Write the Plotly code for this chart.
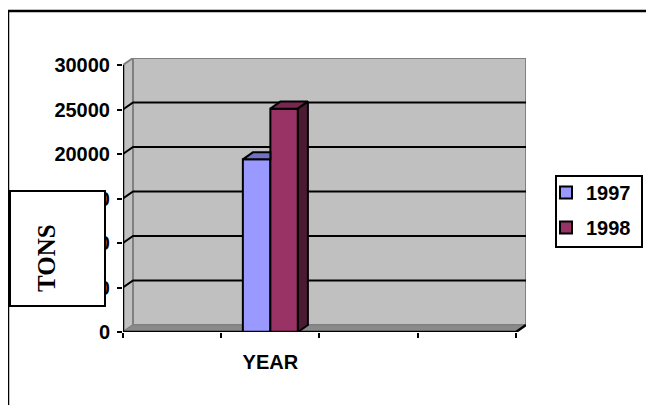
import plotly.graph_objects as go

# ---- data ----
categories = ["", "YEAR", "", ""]
series_names = ["1997", "1998"]
tons_1997 = [None, 19400, None, None]
tons_1998 = [None, 25100, None, None]
y_ticks = [0, 5000, 10000, 15000, 20000, 25000, 30000]
y_tick_labels = ["0", "5000", "10000", "15000", "20000", "25000", "30000"]

# ---- styling / geometry constants ----
FRONT_COLORS = ["#9999FF", "#993366"]
TOP_COLORS = ["#7272C4", "#782850"]
SIDE_COLORS = ["#5050A0", "#4D1A33"]
WALL = "#C0C0C0"
WALL_EDGE = "#808080"
FLOOR = "#8A8A8A"
BARGAP = 0.44
DX = 0.102      # 3D depth in category units
DY = 790        # 3D depth in value units
FONT = "Liberation Sans"

positions = list(range(len(categories)))
XLO = positions[0] - 0.5
XHI = positions[-1] + 0.5
YTOP = y_ticks[-1]

fig = go.Figure()

series = [tons_1997, tons_1998]
for name, vals, col in zip(series_names, series, FRONT_COLORS):
    fig.add_trace(go.Bar(
        x=positions, y=vals, name=name, legendgroup=name,
        marker=dict(color=col, line=dict(color="black", width=2)),
        hoverinfo="skip",
    ))

# 3D faces (top / side) computed from the data values
half = (1 - BARGAP) / 2
for i, (vals, tcol, scol) in enumerate(zip(series, TOP_COLORS, SIDE_COLORS)):
    for c, v in zip(positions, vals):
        if v is None:
            continue
        x0 = c - half + i * half
        x1 = x0 + half
        last = (i == len(series) - 1)
        if last:
            tx = [x0, x1, x1 + DX, x0 + DX, x0]
        else:
            # right part hidden behind the next bar
            tx = [x0, x1, x1, x0 + DX, x0]
        ty = [v, v, v + DY, v + DY, v]
        fig.add_trace(go.Scatter(x=tx, y=ty, fill="toself", fillcolor=tcol,
                                 mode="lines", line=dict(color="black", width=2),
                                 showlegend=False, hoverinfo="skip"))
        if last:
            fig.add_trace(go.Scatter(
                x=[x1, x1 + DX, x1 + DX, x1, x1], y=[0, DY, v + DY, v, 0],
                fill="toself", fillcolor=scol, mode="lines",
                line=dict(color="black", width=2), showlegend=False, hoverinfo="skip"))

shapes = []
# side wall
shapes.append(dict(type="path", xref="x", yref="y", layer="below",
                   path=f"M{XLO},0 L{XLO+DX},{DY} L{XLO+DX},{YTOP+DY} L{XLO},{YTOP} Z",
                   fillcolor=WALL, line=dict(color=WALL_EDGE, width=2)))
# back wall
shapes.append(dict(type="rect", xref="x", yref="y", layer="below",
                   x0=XLO + DX, x1=XHI + DX, y0=DY, y1=YTOP + DY,
                   fillcolor=WALL, line=dict(color=WALL_EDGE, width=2)))
# floor
shapes.append(dict(type="path", xref="x", yref="y", layer="below",
                   path=f"M{XLO},0 L{XHI},0 L{XHI+DX},{DY} L{XLO+DX},{DY} Z",
                   fillcolor=FLOOR, line=dict(color=WALL_EDGE, width=1)))
# gridlines on side + back wall
for v in y_ticks[1:-1]:
    shapes.append(dict(type="path", xref="x", yref="y", layer="below",
                       path=f"M{XLO},{v} L{XLO+DX},{v+DY} L{XHI+DX},{v+DY}",
                       line=dict(color="black", width=2)))
# front axes lines
shapes.append(dict(type="line", xref="x", yref="y", x0=XLO, x1=XLO, y0=0, y1=YTOP,
                   line=dict(color="black", width=2.5)))
shapes.append(dict(type="path", xref="x", yref="y",
                   path=f"M{XLO},0 L{XHI},0 L{XHI+DX},{DY}",
                   line=dict(color="black", width=2.5)))

# page offset (body margin) compensation: figure drawn 8px in from window edge
OFF = 8
W, H = 654 - OFF, 405 - OFF
L, T = 123 - OFF, 58 - OFF
R = W - (526 - OFF)
B = H - (332 - OFF)
pw, ph = W - L - R, H - T - B
def px(xr):
    return (xr - OFF - L) / pw
def py(yr):
    return (H - B - (yr - OFF)) / ph

shapes.append(dict(type="path", xref="paper", yref="paper",
                   path=f"M{px(8)},{py(420)} L{px(8)},{py(11)} L{px(670)},{py(11)}",
                   line=dict(color="black", width=2.5)))
# TONS box (covers part of tick labels)
shapes.append(dict(type="rect", xref="paper", yref="paper", layer="above",
                   x0=px(10), x1=px(105), y0=py(306), y1=py(191),
                   fillcolor="white", line=dict(color="black", width=2)))
# legend frame
shapes.append(dict(type="rect", xref="paper", yref="paper", layer="above",
                   x0=px(556), x1=px(642), y0=py(247), y1=py(176),
                   fillcolor="white", line=dict(color="black", width=2)))

fig.update_layout(
    width=W, height=H,
    margin=dict(l=L, r=R, t=T, b=B),
    paper_bgcolor="white", plot_bgcolor="white",
    barmode="group", bargap=BARGAP, bargroupgap=0,
    shapes=shapes,
    showlegend=True,
    legend=dict(x=px(546), y=py(173), xanchor="left", yanchor="top",
                bgcolor="rgba(0,0,0,0)", borderwidth=0,
                font=dict(family=FONT, size=20, color="black", weight="bold"),
                tracegroupgap=6, traceorder="grouped"),
    font=dict(family=FONT, color="black"),
    annotations=[dict(text="TONS", xref="paper", yref="paper", x=px(46), y=py(258),
                      xanchor="center", yanchor="middle",
                      showarrow=False, textangle=-90,
                      font=dict(family="Liberation Serif", size=25, color="black",
                                weight="bold"))],
)
fig.update_xaxes(range=[XLO, XHI + DX], tickmode="array", tickvals=positions,
                 ticktext=categories, ticks="", showgrid=False, zeroline=False,
                 showline=False, ticklabelstandoff=16,
                 tickfont=dict(family=FONT, size=20, color="black", weight="bold"),
                 minor=dict(tickmode="array",
                            tickvals=[XLO + k for k in range(len(categories) + 1)],
                            ticks="outside", ticklen=5, tickwidth=2, tickcolor="black",
                            showgrid=False))
fig.update_yaxes(range=[0, YTOP + DY], tickmode="array", tickvals=y_ticks,
                 ticktext=y_tick_labels, ticks="outside", ticklen=5, tickwidth=2,
                 tickcolor="black", showgrid=False, zeroline=False, showline=False,
                 ticklabelstandoff=3,
                 tickfont=dict(family=FONT, size=20, color="black", weight="bold"))

fig.write_html("out.html")
